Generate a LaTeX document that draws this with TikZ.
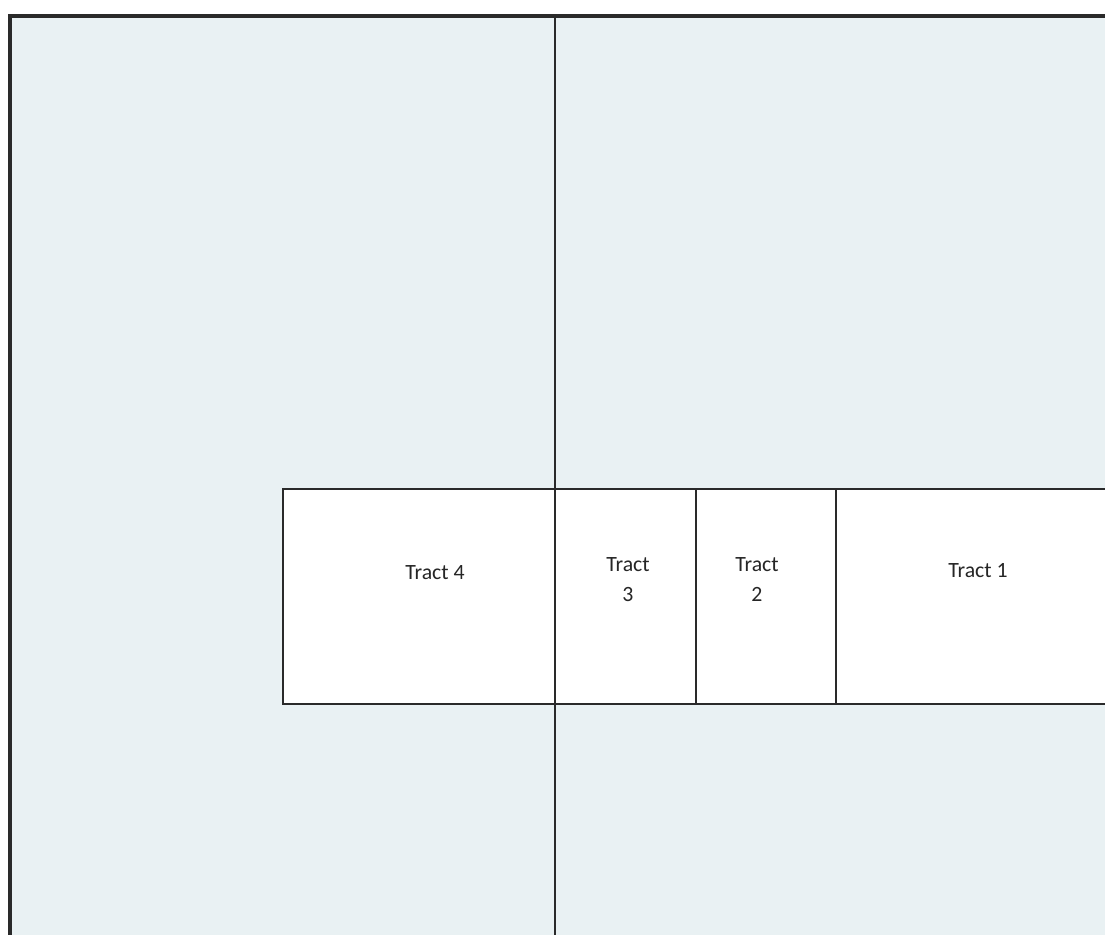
\documentclass[tikz,border=0pt]{standalone}
\usepackage{fontspec}
\setmainfont{Carlito}
\definecolor{parcelbg}{HTML}{E9F1F3}
\definecolor{parcelline}{HTML}{2A2A2A}

\begin{document}
\begin{tikzpicture}[x=0.02cm, y=-0.02cm,
    tractbox/.style={draw=parcelline, line width=1.1pt, fill=white},
    tractlabel/.style={font=\fontsize{12.4}{17}\selectfont, align=center, anchor=base, text=black!85}]
  \useasboundingbox (0,0) rectangle (1105,935);
  \fill[white] (0,0) rectangle (1105,935);

  % --- outer parcel ---
  \fill[parcelbg] (10,16) rectangle (1105,935);
  \draw[line width=2pt, parcelline] (10,935) -- (10,16) -- (1105,16);

  % --- dividing line ---
  \draw[line width=1.1pt, parcelline] (555,16) -- (555,935);

  % --- tracts along the band ---
  \draw[tractbox] (283,489) rectangle (555,704);
  \draw[tractbox] (555,489) rectangle (696,704);
  \draw[tractbox] (696,489) rectangle (836,704);
  \draw[tractbox] (836,489) rectangle (1120,704);

  \node[tractlabel] (tract4) at (435,579) {Tract 4};
  \node[tractlabel] (tract3) at (628,601) {Tract\\3};
  \node[tractlabel] (tract2) at (757,601) {Tract\\2};
  \node[tractlabel] (tract1) at (978,577) {Tract 1};
\end{tikzpicture}
\end{document}
